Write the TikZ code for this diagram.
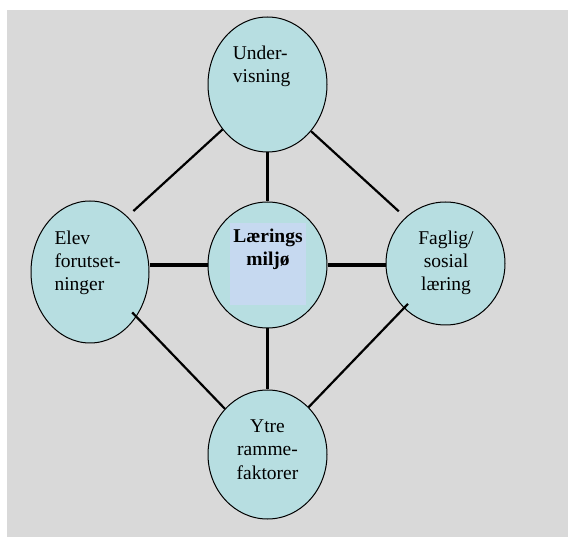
\documentclass[tikz,border=0pt]{standalone}
\usepackage{fontspec}
\setmainfont{Liberation Serif}
\usetikzlibrary{shapes.geometric}
\definecolor{bakgrunn}{HTML}{D9D9D9}
\definecolor{sirkelfarge}{HTML}{B7DEE1}
\definecolor{boksfarge}{HTML}{C6D9F0}

\begin{document}
\begin{tikzpicture}[x=1pt, y=-1pt,
  sirkel/.style={ellipse, draw, fill=sirkelfarge, inner sep=0pt, line width=1pt},
  tekst/.style={inner sep=0pt, font=\fontsize{19.5}{23.3}\selectfont},
  tykk/.style={line width=3.3pt},
  tynn/.style={line width=2.2pt}]
\useasboundingbox (0,0) rectangle (568,537);
\fill[bakgrunn] (7,10) rectangle (568,537);

% sirklene
\node[sirkel, minimum width=119pt, minimum height=135pt] (under) at (267.5,84.5) {};
\node[sirkel, minimum width=119pt, minimum height=126pt] (midt) at (267.5,265) {};
\node[sirkel, minimum width=118pt, minimum height=142pt] (elev) at (90,272) {};
\node[sirkel, minimum width=119pt, minimum height=123pt] (faglig) at (445.5,263.5) {};
\node[sirkel, minimum width=119pt, minimum height=129pt] (ytre) at (267.5,454.5) {};
\fill[boksfarge] (230,223) rectangle (306,305);

% tekstene (base = siste linje)
\node[tekst, align=left, anchor=base west] (undertxt) at (232.7,83) {Under-\\visning};
\node[tekst, align=center, anchor=base, font=\fontsize{19.5}{23.3}\selectfont\bfseries] (midttxt) at (268,266) {Lærings\\miljø};
\node[tekst, align=left, anchor=base west] (elevtxt) at (54.3,291) {Elev\\forutset-\\ninger};
\node[tekst, align=center, anchor=base] (fagligtxt) at (446,291) {Faglig/\\sosial\\læring};
\node[tekst, align=center, anchor=base] (ytretxt) at (267.5,479) {Ytre\\ramme-\\faktorer};

% linjene
\draw[tykk] (under) -- (midt);
\draw[tykk] (midt.west) -- (midt.west -| elev.east);
\draw[tykk] (midt.east) -- (midt.east -| faglig.west);
\draw[tykk] (midt) -- (ytre);
\draw[tynn, shorten >=8pt] (under.225) -- (elev.56);
\draw[tynn, shorten >=9pt] (under.313) -- (faglig.131);
\draw[tynn, shorten <=-6pt] (elev.-44) -- (ytre.133);
\draw[tynn, shorten <=-6pt] (faglig.227) -- (ytre.49);
\end{tikzpicture}
\end{document}
